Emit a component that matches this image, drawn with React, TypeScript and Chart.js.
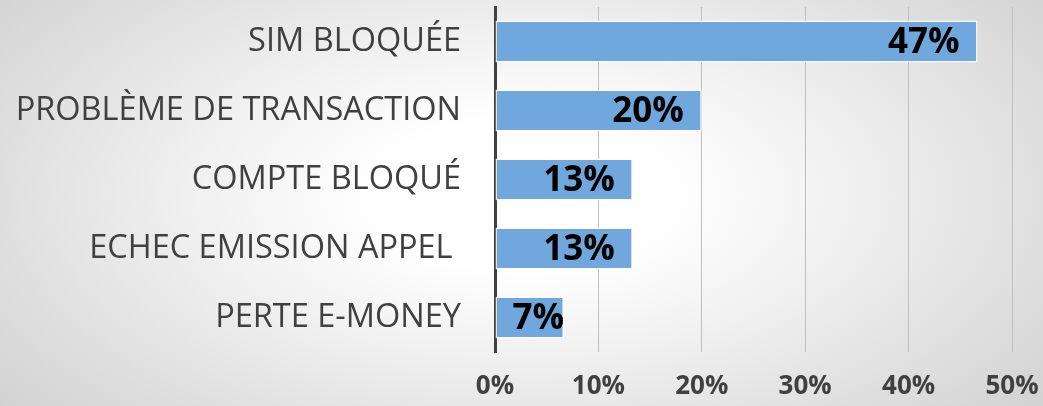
import React, { useEffect, useRef } from "react";
import { Chart, registerables } from "chart.js";

Chart.register(...registerables);

const categories = [
  "SIM BLOQUÉE",
  "PROBLÈME DE TRANSACTION",
  "COMPTE BLOQUÉ",
  "ECHEC EMISSION APPEL ",
  "PERTE E-MONEY",
];
const values = [46.67, 20, 13.33, 13.33, 6.67];
const xTicks = [0, 10, 20, 30, 40, 50];

const barLabels = {
  id: "barLabels",
  afterDatasetsDraw(chart: any) {
    const ctx = chart.ctx;
    const meta = chart.getDatasetMeta(0);
    ctx.save();
    ctx.font = "bold 35px 'Open Sans'";
    ctx.fillStyle = "#000000";
    ctx.textAlign = "right";
    ctx.textBaseline = "middle";
    meta.data.forEach((bar: any, i: number) => {
      const v = chart.data.datasets[0].data[i] as number;
      const txt = Math.round(v) + "%";
      const w = ctx.measureText(txt).width;
      const x = Math.max(bar.x - 18, bar.base + 17 + w);
      ctx.fillText(txt, x, bar.y + 2);
    });
    ctx.restore();
  },
};

export default function App() {
  const ref = useRef<HTMLCanvasElement>(null);
  useEffect(() => {
    document.body.style.margin = "0";
    const chart = new Chart(ref.current!, {
      type: "bar",
      data: {
        labels: categories,
        datasets: [
          {
            data: values,
            backgroundColor: "#70a7dc",
            borderColor: "rgba(255,255,255,0.85)",
            borderWidth: 1.5,
            borderSkipped: false,
            categoryPercentage: 1,
            barPercentage: 0.61,
          },
        ],
      },
      options: {
        indexAxis: "y",
        animation: false,
        responsive: false,
        layout: { padding: { top: 7, right: 31, left: 0, bottom: 0 } },
        plugins: { legend: { display: false }, tooltip: { enabled: false } },
        scales: {
          x: {
            min: 0,
            max: 50,
            afterBuildTicks: (s: any) => {
              s.ticks = xTicks.map((v) => ({ value: v }));
            },
            afterFit: (s: any) => {
              s.height = 54;
              s.paddingLeft = 0;
              s.paddingRight = 0;
            },
            grid: { color: "#bfbfbf", lineWidth: 1, drawTicks: false },
            border: { display: false },
            ticks: {
              callback: (v: any) => v + "%",
              color: "#404040",
              font: { family: "'Open Sans'", size: 26, weight: "bold" },
              padding: 19,
              maxRotation: 0,
            },
          },
          y: {
            afterFit: (s: any) => {
              s.width = 495;
              s.paddingTop = 0;
              s.paddingBottom = 0;
            },
            grid: { display: false, drawTicks: false },
            border: { display: true, color: "#404040", width: 3 },
            ticks: {
              color: "#404040",
              font: { family: "'Open Sans'", size: 32.5 },
              padding: 34,
            },
          },
        },
      },
      plugins: [barLabels],
    });
    return () => chart.destroy();
  }, []);
  return (
    <div
      style={{
        position: "fixed",
        left: 0,
        top: 0,
        width: 1043,
        height: 406,
        background:
          "radial-gradient(ellipse 70% 90% at 50% 48%, #ffffff 20%, #f0f0f0 45%, #cdcdcd 100%)",
      }}
    >
      <canvas ref={ref} width={1043} height={406} />
    </div>
  );
}
